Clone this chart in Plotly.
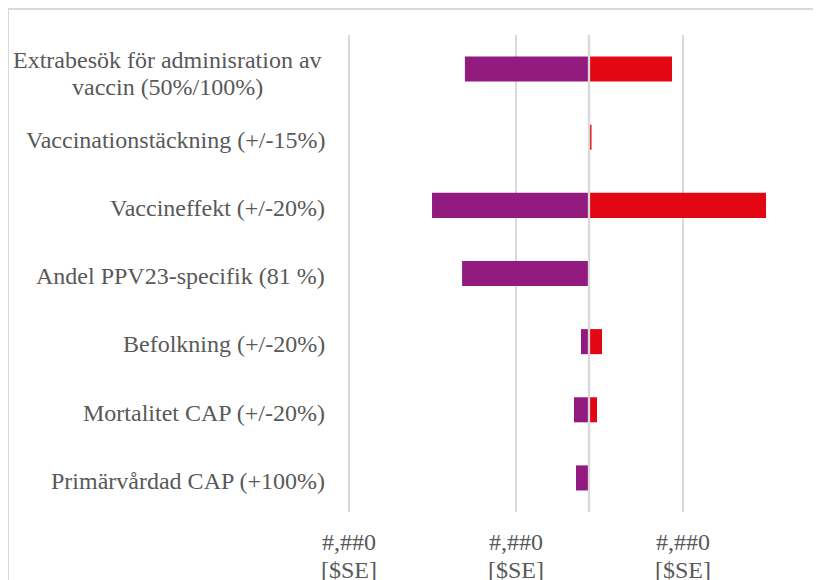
import plotly.graph_objects as go

categories = [
    "Extrabesök för adminisration av<br>vaccin (50%/100%)",
    "Vaccinationstäckning (+/-15%)",
    "Vaccineffekt (+/-20%)",
    "Andel PPV23-specifik (81 %)",
    "Befolkning (+/-20%)",
    "Mortalitet CAP (+/-20%)",
    "Primärvårdad CAP (+100%)",
]
low_values = [-74.3, -0.3, -94.0, -76.0, -4.8, -9.0, -7.8]
high_values = [49.7, 1.5, 106.0, 0.0, 7.8, 4.8, 0.0]
tick_values = [-143.7, -43.7, 56.3]
tick_line1 = ["#,##0", "#,##0", "#,##0"]
tick_line2 = ["[$SE]", "[$SE]", "[$SE]"]

PURPLE = "#931B7F"
RED = "#E30613"
GRID = "#d9d9d9"
TEXT = "#595959"
FONT = "Liberation Serif"

y_idx = list(range(len(categories)))

fig = go.Figure()
fig.add_trace(go.Bar(y=y_idx, x=low_values, orientation="h",
                     marker=dict(color=PURPLE, line=dict(width=0)),
                     showlegend=False))
fig.add_trace(go.Bar(y=y_idx, x=high_values, orientation="h",
                     marker=dict(color=RED, line=dict(width=0)),
                     showlegend=False))

# page body has an 8px margin, so figure coords = screen coords - 8
OFF = 8
W, H = 821, 580
L = 348 - OFF
T = 35 - OFF
PB = 512 - OFF          # plot bottom in figure coords
R = W - (821 - OFF)
B = H - PB
pw = W - L - R
ph = PB - T

fig.update_layout(
    width=W, height=H,
    margin=dict(l=L, r=R, t=T, b=B, pad=0),
    paper_bgcolor="white", plot_bgcolor="white",
    barmode="relative", bargap=0.632,
    font=dict(family=FONT, size=24, color=TEXT),
    xaxis=dict(
        range=[-144.31, (821 - 589) / 1.67],
        tickvals=tick_values, ticktext=tick_line1,
        showgrid=True, gridcolor=GRID, gridwidth=2,
        zeroline=False, showline=False,
        ticks="outside", ticklen=8, tickcolor="rgba(0,0,0,0)",
        tickfont=dict(family=FONT, size=24, color=TEXT),
        fixedrange=True,
    ),
    yaxis=dict(
        range=[len(categories) - 0.5, -0.5],
        showticklabels=False, showgrid=False, zeroline=False,
        showline=False, fixedrange=True,
    ),
)

# zero line on top of bars
fig.add_shape(type="line", xref="x", yref="paper", x0=0, x1=0, y0=0, y1=1,
              line=dict(color=GRID, width=2.3), layer="above")

# category labels (multi-line labels split into lines with tighter spacing)
LINE_GAP = 27 / 68.1  # in category units
for i, c in enumerate(categories):
    parts = c.split("<br>")
    n = len(parts)
    for j, p in enumerate(parts):
        yc = i + 0.04 + (j - (n - 1) / 2) * LINE_GAP + (0.03 if n > 1 else 0)
        fig.add_annotation(xref="paper", yref="y",
                           x=(327 - OFF - L) / pw if n == 1 else (167 - OFF - L) / pw,
                           y=yc, text=p, showarrow=False,
                           xanchor="right" if n == 1 else "center",
                           yanchor="middle", align="center",
                           font=dict(family=FONT, size=24, color=TEXT))

# second line of tick labels
for v, t in zip(tick_values, tick_line2):
    fig.add_annotation(xref="x", yref="paper", x=v, y=(PB - (570 - OFF)) / ph, text=t,
                       showarrow=False, xanchor="center", yanchor="middle",
                       font=dict(family=FONT, size=24, color=TEXT))

# outer chart border (top and left edges; the rest lies outside the picture)
bx0 = (8 - OFF - L) / pw
by1 = (PB - (9 - OFF)) / ph
fig.add_shape(type="line", xref="paper", yref="paper",
              x0=bx0, x1=2.0, y0=by1, y1=by1,
              line=dict(color=GRID, width=2), layer="below")
fig.add_shape(type="line", xref="paper", yref="paper",
              x0=bx0, x1=bx0, y0=by1, y1=-1.0,
              line=dict(color=GRID, width=2), layer="below")

fig.write_html("out.html")
